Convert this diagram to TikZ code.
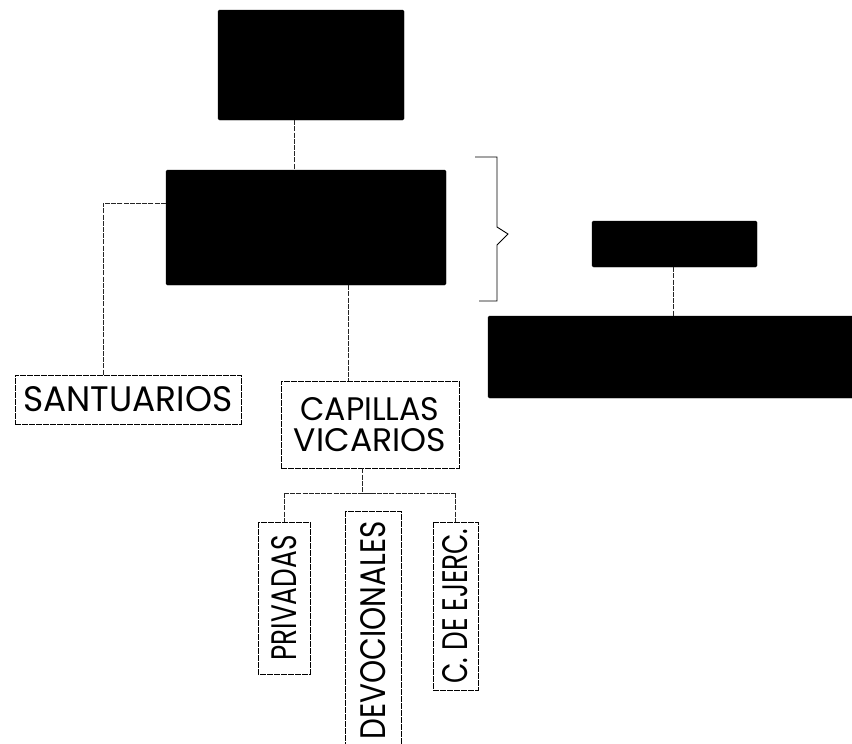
\documentclass[tikz,border=0pt]{standalone}
\usepackage{fontspec}
\setmainfont{Poppins}
\begin{document}
\begin{tikzpicture}[x=1pt,y=-1pt,
  blackbox/.style={draw=black,fill=black,inner sep=0pt,rounded corners=1.5pt},
  txtbox/.style={draw=black,line width=0.7pt,inner sep=0pt,densely dashed,dash pattern=on 6pt off 1pt},
  conn/.style={draw=black!85,line width=0.8pt,dash pattern=on 5pt off 1.2pt},
  brace/.style={draw=black,line width=0.9pt}]
\clip (0,0) rectangle (852,744);
\fill[white] (0,0) rectangle (852,744);

% black boxes
\node[blackbox,minimum width=186pt,minimum height=110pt] (top) at (311,65) {};
\node[blackbox,minimum width=280pt,minimum height=115pt] (main) at (306,227.5) {};
\node[blackbox,minimum width=165pt,minimum height=46pt] (rsmall) at (674.5,244) {};
\node[blackbox,minimum width=380pt,minimum height=82pt] (rbig) at (678,357) {};

% text boxes
\node[txtbox,minimum width=226pt,minimum height=49pt] (sant) at (128,399.5)
  {\resizebox{209pt}{25pt}{SANTUARIOS}};
\node[txtbox,minimum width=178pt,minimum height=87pt,align=center,
  font=\fontsize{20}{31}\selectfont] (cap) at (370,424.5)
  {\resizebox{139pt}{23pt}{CAPILLAS}\\\resizebox{152pt}{23pt}{VICARIOS}};
\node[txtbox,rotate=90,minimum width=152pt,minimum height=52pt] (priv) at (284,598)
  {\resizebox{125pt}{25pt}{PRIVADAS}};
\node[txtbox,rotate=90,minimum width=239pt,minimum height=56pt] (devo) at (373,630.5)
  {\resizebox{218pt}{25pt}{DEVOCIONALES}};
\node[txtbox,rotate=90,minimum width=168pt,minimum height=45pt] (ejer) at (455.5,606)
  {\resizebox{155pt}{25pt}{C. DE EJERC.}};

% connectors
\coordinate (c1) at (294,0);
\draw[conn] (top.south -| c1) -- (main.north -| c1);
\coordinate (lj) at (103,203);
\draw[conn] (main.west |- lj) -- (lj) -- (lj |- sant.north);
\coordinate (c2) at (348,0);
\draw[conn] (main.south -| c2) -- (cap.north -| c2);
\coordinate (bar) at (362,493);
\draw[conn] (cap.south -| bar) -- (bar);
\draw[conn] (priv.east |- bar) -- (ejer.east |- bar);
\draw[conn] (bar) -- (devo.east |- bar);
\draw[conn] (priv.east |- bar) -- (priv.east);
\draw[conn] (ejer.east |- bar) -- (ejer.east);
\coordinate (c3) at (673,0);
\draw[conn] (rsmall.south -| c3) -- (rbig.north -| c3);

% brace
\coordinate (bt) at (475,157);
\coordinate (bb) at (479,301);
\coordinate (btip) at (508,234);
\draw[brace] (bt) -- (497,157) -- (497,227) -- (btip) -- (497,245) -- (497,301) -- (bb);
\end{tikzpicture}
\end{document}
